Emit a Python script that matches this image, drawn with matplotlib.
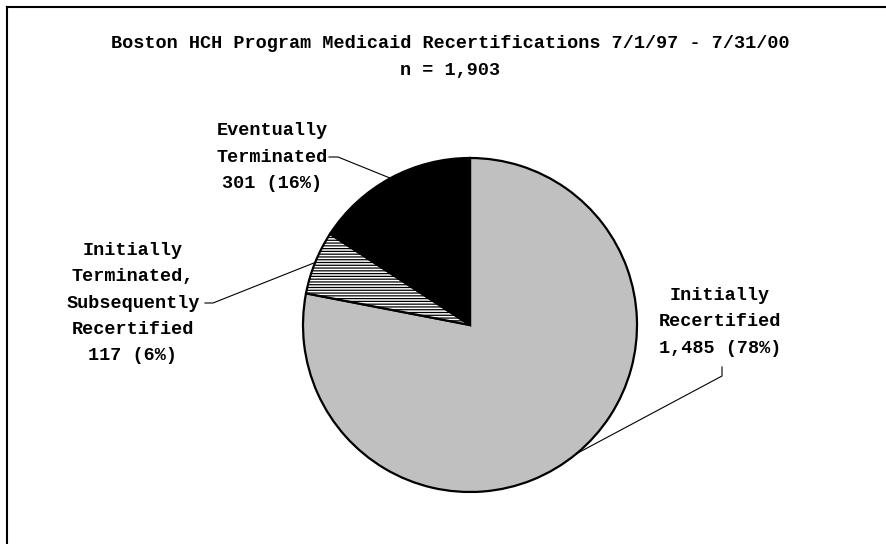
import numpy as np
import matplotlib.pyplot as plt
from matplotlib.lines import Line2D

labels = ["Initially\nRecertified", "Initially\nTerminated,\nSubsequently\nRecertified", "Eventually\nTerminated"]
counts = [1485, 117, 301]
colors = ["#C0C0C0", "white", "black"]
hatches = [None, "------", None]

W, H = 886, 544
total = sum(counts)
title = "Boston HCH Program Medicaid Recertifications 7/1/97 - 7/31/00\nn = {:,}".format(total)

# label text positions (pixel coords, y down) and leader start points
label_pos = [(720, 322), (133, 303), (272, 157)]
leader_start = [[(722, 367), (722, 376)], [(205, 303), (213, 303)], [(329, 157), (338, 157)]]

font = dict(family="Liberation Mono", weight="bold", size=13.3)

def main():
    plt.rcParams["hatch.linewidth"] = 0.9
    fig = plt.figure(figsize=(W / 100, H / 100), dpi=100)
    ax = fig.add_axes([0, 0, 1, 1])
    cx, cy, r = 470, H - 325, 167
    wedges, _ = ax.pie(counts, colors=colors, startangle=90, counterclock=False,
                       center=(cx, cy), radius=r,
                       wedgeprops=dict(edgecolor="black", linewidth=1.6))
    for w, h in zip(wedges, hatches):
        if h:
            w.set_hatch(h)
    ax.set_xlim(0, W)
    ax.set_ylim(0, H)
    ax.axis("off")

    for i, w in enumerate(wedges):
        mid = np.deg2rad((w.theta1 + w.theta2) / 2)
        ex, ey = cx + r * np.cos(mid), cy + r * np.sin(mid)
        pct = round(100 * counts[i] / total)
        txt = "{}\n{:,} ({}%)".format(labels[i], counts[i], pct)
        lx, ly = label_pos[i]
        ax.text(lx, H - ly, txt, ha="center", va="center", linespacing=1.72,
                fontdict=font)
        pts = leader_start[i]
        xs = [p[0] for p in pts] + [ex]
        ys = [H - p[1] for p in pts] + [ey]
        ax.plot(xs, ys, color="black", linewidth=0.8)

    ax.text(450, H - 57, title, ha="center", va="center", linespacing=1.72,
            fontdict=font)

    # frame (only left and top edges visible in the picture)
    x0, y0 = 7 / W, 1 - 7 / H
    fig.add_artist(Line2D([x0, x0], [0, y0], color="black", linewidth=1.5))
    fig.add_artist(Line2D([x0, 1], [y0, y0], color="black", linewidth=1.5))

    fig.savefig("out.png", dpi=100)

if __name__ == "__main__":
    main()
